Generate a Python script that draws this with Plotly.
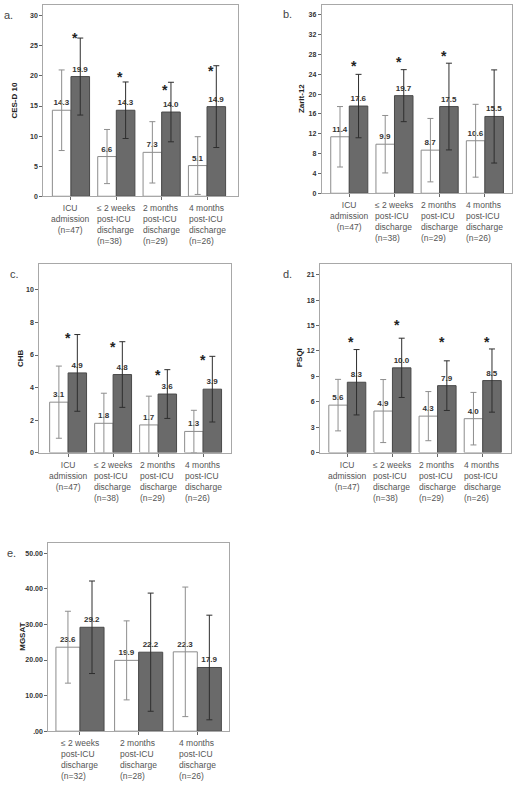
import plotly.graph_objects as go

# ---------------- data ----------------
cats_4 = ["ICU<br>admission<br>(n=47)",
          "≤ 2 weeks<br>post-ICU<br>discharge<br>(n=38)",
          "2 months<br>post-ICU<br>discharge<br>(n=29)",
          "4 months<br>post-ICU<br>discharge<br>(n=26)"]
cats_3 = ["≤ 2 weeks<br>post-ICU<br>discharge<br>(n=32)",
          "2 months<br>post-ICU<br>discharge<br>(n=28)",
          "4 months<br>post-ICU<br>discharge<br>(n=26)"]

a_white = [14.3, 6.6, 7.3, 5.1]
a_white_err = [6.7, 4.5, 5.1, 4.8]
a_dark = [19.9, 14.3, 14.0, 14.9]
a_dark_err = [6.4, 4.7, 4.95, 6.8]
a_star = [26.6, 20.2, 18.0, 21.1]
a_ticks = [0, 5, 10, 15, 20, 25, 30]

b_white = [11.4, 9.9, 8.7, 10.6]
b_white_err = [6.1, 5.8, 6.4, 7.35]
b_dark = [17.6, 19.7, 17.5, 15.5]
b_dark_err = [6.4, 5.25, 8.75, 9.4]
b_star = [26.1, 26.8, 28.1, None]
b_ticks = [0, 4, 8, 12, 16, 20, 24, 28, 32, 36]

c_white = [3.1, 1.8, 1.7, 1.3]
c_white_err = [2.22, 1.85, 1.77, 1.3]
c_dark = [4.9, 4.8, 3.6, 3.9]
c_dark_err = [2.36, 2.02, 1.5, 2.02]
c_star = [7.16, 6.6, 4.9, 5.8]
c_ticks = [0, 2, 4, 6, 8, 10]

d_white = [5.6, 4.9, 4.3, 4.0]
d_white_err = [3.04, 3.72, 2.9, 3.1]
d_dark = [8.3, 10.0, 7.9, 8.5]
d_dark_err = [3.86, 3.5, 2.93, 3.73]
d_star = [13.25, 15.3, 13.25, 13.25]
d_ticks = [0, 3, 6, 9, 12, 15, 18, 21]

e_white = [23.6, 19.9, 22.3]
e_white_err = [10.1, 11.1, 18.2]
e_dark = [29.2, 22.2, 17.9]
e_dark_err = [13.0, 16.6, 14.7]
e_star = [None, None, None]
e_ticks = [0, 10, 20, 30, 40, 50]
e_ticktext = [".00", "10.00", "20.00", "30.00", "40.00", "50.00"]

panels = [
    dict(letter="a.", cats=cats_4, w=a_white, we=a_white_err, d=a_dark, de=a_dark_err,
         star=a_star, ticks=a_ticks, ticktext=None, ytitle="CES-D 10"),
    dict(letter="b.", cats=cats_4, w=b_white, we=b_white_err, d=b_dark, de=b_dark_err,
         star=b_star, ticks=b_ticks, ticktext=None, ytitle="Zarit-12"),
    dict(letter="c.", cats=cats_4, w=c_white, we=c_white_err, d=c_dark, de=c_dark_err,
         star=c_star, ticks=c_ticks, ticktext=None, ytitle="CHB"),
    dict(letter="d.", cats=cats_4, w=d_white, we=d_white_err, d=d_dark, de=d_dark_err,
         star=d_star, ticks=d_ticks, ticktext=None, ytitle="PSQI"),
    dict(letter="e.", cats=cats_3, w=e_white, we=e_white_err, d=e_dark, de=e_dark_err,
         star=e_star, ticks=e_ticks, ticktext=e_ticktext, ytitle="MGSAT"),
]

# ---------------- geometry (pixels in a 519x787 page) ----------------
W, H = 519, 787
geom = [
    dict(xpx=(43.3, 238.3), ypx=(5, 197), xr=(-0.61, 3.69), ymax=31.8, tx=15, letter=(9, 15), sdx=0.08),
    dict(xpx=(321.7, 512.0), ypx=(5, 194), xr=(-0.61, 3.60), ymax=38.0, tx=301, letter=(287.5, 14), sdx=0.1),
    dict(xpx=(39.3, 231.0), ypx=(265, 454.3), xr=(-0.64, 3.62), ymax=11.6, tx=20.7, letter=(14, 275), sdx=0.0),
    dict(xpx=(320.0, 510.7), ypx=(265, 454.3), xr=(-0.605, 3.62), ymax=22.26, tx=299, letter=(287, 275), sdx=0.09),
    dict(xpx=(48.3, 229.3), ypx=(545, 734), xr=(-0.54, 2.545), ymax=52.9, tx=21.7, letter=(11, 555), sdx=0.0),
]

FONT = "Liberation Sans, Arial, sans-serif"
WHITE_LINE = "#8c8c8c"
DARK_FILL = "#6a6a6a"
DARK_LINE = "#4a4a4a"
FRAME = "#a8a8a8"

fig = go.Figure()
annotations = []
layout_axes = {}

for i, (p, g) in enumerate(zip(panels, geom)):
    n = i + 1
    sx = "" if n == 1 else str(n)
    xa, ya = "x" + sx, "y" + sx

    fig.add_trace(go.Bar(
        x=p["cats"], y=p["w"], xaxis=xa, yaxis=ya,
        marker=dict(color="white", line=dict(color=WHITE_LINE, width=1)),
        error_y=dict(type="data", array=p["we"], color="#8e8e8e", thickness=1, width=3),
        text=[f"{v:.1f}" for v in p["w"]], textposition="outside", cliponaxis=False,
        constraintext="none",
        textfont=dict(family=FONT, size=8, color="#333333", weight="bold"),
        showlegend=False, hoverinfo="skip"))
    fig.add_trace(go.Bar(
        x=p["cats"], y=p["d"], xaxis=xa, yaxis=ya,
        marker=dict(color=DARK_FILL, line=dict(color=DARK_LINE, width=1)),
        error_y=dict(type="data", array=p["de"], color="#2e2e2e", thickness=1, width=3),
        text=[f"{v:.1f}" for v in p["d"]], textposition="outside", cliponaxis=False,
        constraintext="none",
        textfont=dict(family=FONT, size=8, color="#333333", weight="bold"),
        showlegend=False, hoverinfo="skip"))

    xd = [g["xpx"][0] / W, g["xpx"][1] / W]
    yd = [1 - g["ypx"][1] / H, 1 - g["ypx"][0] / H]
    layout_axes["xaxis" + sx] = dict(
        domain=xd, anchor=ya, type="category", categoryarray=p["cats"],
        range=list(g["xr"]), showticklabels=False, ticks="outside", ticklen=3,
        tickcolor="#666666", showline=True, linecolor=FRAME, mirror=True,
        showgrid=False, zeroline=False, fixedrange=True)
    layout_axes["yaxis" + sx] = dict(
        domain=yd, anchor=xa, range=[0, g["ymax"]],
        tickvals=p["ticks"],
        ticktext=p["ticktext"] if p["ticktext"] else [str(t) for t in p["ticks"]],
        ticks="outside", ticklen=3, tickcolor="#666666",
        tickfont=dict(family=FONT, size=7, color="#333333", weight="bold"),
        showline=True, linecolor=FRAME, mirror=True,
        showgrid=False, zeroline=False, fixedrange=True)

    # category labels (left-aligned blocks, like the original)
    for k, lab in enumerate(p["cats"]):
        annotations.append(dict(
            x=k, y=0, xref=xa, yref=ya + " domain", text=lab, showarrow=False,
            xanchor="center", yanchor="top", yshift=-5,
            align="center" if lab.startswith("ICU") else "left",
            font=dict(family=FONT, size=8.5, color="#555555")))

    # significance stars
    for k, sy in enumerate(p["star"]):
        if sy is None:
            continue
        annotations.append(dict(
            x=k + g["sdx"], y=sy, xref=xa, yref=ya, text="*", showarrow=False,
            xanchor="center", yanchor="middle", yshift=-2,
            font=dict(family=FONT, size=14, color="#222222", weight="bold")))

    # y-axis title
    annotations.append(dict(
        x=g["tx"] / W, y=(yd[0] + yd[1]) / 2, xref="paper", yref="paper",
        text=p["ytitle"], textangle=-90, showarrow=False,
        xanchor="center", yanchor="middle",
        font=dict(family=FONT, size=8, color="#222222", weight="bold")))

    # panel letter
    annotations.append(dict(
        x=g["letter"][0] / W, y=1 - g["letter"][1] / H, xref="paper", yref="paper",
        text=p["letter"], showarrow=False, xanchor="center", yanchor="middle",
        font=dict(family=FONT, size=11, color="#444444")))

fig.update_layout(
    width=W, height=H, autosize=False,
    margin=dict(l=0, r=0, t=0, b=0),
    paper_bgcolor="white", plot_bgcolor="white",
    barmode="group", bargap=0.18, bargroupgap=0,
    hovermode=False,
    annotations=annotations,
    **layout_axes)

fig.write_html("out.html",
               config={"displayModeBar": False, "staticPlot": True},
               post_script="document.body.style.margin='0';document.body.style.overflow='hidden';")
